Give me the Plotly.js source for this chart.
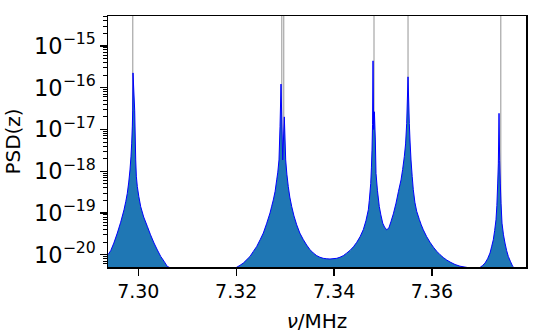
<!DOCTYPE html>
<html>
<head>
<meta charset="utf-8">
<script src="https://cdn.plot.ly/plotly-3.0.1.min.js"></script>
<style>
  html, body { margin: 0; padding: 0; background: #ffffff; }
  #plot { width: 542px; height: 335px; }
</style>
</head>
<body>
<div id="plot"></div>
<script>
// Power spectral density of z around 7.3 MHz
const freq = [
  // mode near 7.299 MHz
  7.29381, 7.29436, 7.29500, 7.29571, 7.29640, 7.29708, 7.29745, 7.29775, 7.29805,
  7.29830, 7.29850, 7.29865, 7.29878, 7.29886, 7.29892, 7.29926, 7.29947, 7.29960,
  7.29980, 7.30010, 7.30049, 7.30110, 7.30184, 7.30250, 7.30321, 7.30390, 7.30458,
  7.30525, 7.30592, 7.30682,
  // gap
  7.3095, 7.3130, 7.3165,
  // mode pair near 7.329 MHz
  7.32010, 7.32080, 7.32145, 7.32282, 7.32350, 7.32419, 7.32490, 7.32554, 7.32620,
  7.32691, 7.32725, 7.32758, 7.32795, 7.32827, 7.32850, 7.32874, 7.32895, 7.32915,
  7.32950, 7.32983, 7.33011, 7.33035, 7.33064, 7.33095, 7.33134, 7.33180, 7.33236,
  7.33300, 7.33371, 7.33440, 7.33508, 7.33575, 7.33645, 7.33710, 7.33779, 7.33850,
  7.33916, 7.34053, 7.34120, 7.34188, 7.34255, 7.34325, 7.34395, 7.34462, 7.34530,
  7.34597, 7.34650, 7.34699, 7.34719, 7.34748, 7.34762, 7.34774, 7.34785, 7.34795,
  // mode pair near 7.348 MHz and mode near 7.355 MHz
  7.34807, 7.34823, 7.34842, 7.34856, 7.34885, 7.34923, 7.34955, 7.34993, 7.35030,
  7.35075, 7.35120, 7.35162, 7.35210, 7.35265, 7.35315, 7.35367, 7.35400, 7.35434,
  7.35460, 7.35483, 7.35510, 7.35536, 7.35552, 7.35571, 7.35595, 7.35618, 7.35650,
  7.35687, 7.35741, 7.35780, 7.35822, 7.35890, 7.35959, 7.36030, 7.36096, 7.36165,
  7.36231, 7.36300, 7.36368, 7.36470, 7.36572, 7.36742, 7.3690,
  // mode near 7.374 MHz
  7.36981, 7.37030, 7.37083, 7.37135, 7.37185, 7.37220, 7.37252, 7.37280, 7.37307,
  7.37325, 7.37342, 7.37355, 7.37369, 7.37382, 7.37395, 7.37410, 7.37430, 7.37460,
  7.37491, 7.37525, 7.37559, 7.37600, 7.37649, 7.37675, 7.3775, 7.3792
];
const psd = [
  1.0e-20, 1.25e-20, 1.9e-20, 3.3e-20, 6.0e-20, 1.19e-19, 1.9e-19, 2.95e-19, 5.5e-19,
  1.07e-18, 2.2e-18, 4.7e-18, 1.2e-17, 2.9e-17, 2.26e-16, 2.9e-17, 1.86e-18, 7.6e-19,
  4.3e-19, 2.5e-19, 1.42e-19, 8.0e-20, 4.8e-20, 3.0e-20, 1.91e-20, 1.3e-20, 9.1e-21,
  7.0e-21, 5.25e-21, 4.7e-21,
  3.5e-21, 2.6e-21, 3.3e-21,
  5.0e-21, 5.6e-21, 6.3e-21, 9.1e-21, 1.2e-20, 1.58e-20, 2.3e-20, 3.3e-20, 5.5e-20,
  1.0e-19, 1.45e-19, 2.05e-19, 3.3e-19, 6.2e-19, 9.5e-19, 1.86e-18, 1.16e-17, 1.22e-16,
  1.86e-18, 2.0e-17, 1.86e-18, 8.5e-19, 4.3e-19, 2.4e-19, 1.42e-19, 8.5e-20, 5.2e-20,
  3.3e-20, 2.3e-20, 1.7e-20, 1.32e-20, 1.1e-20, 9.5e-21, 8.7e-21, 8.2e-21, 8.0e-21,
  7.9e-21, 8.2e-21, 8.7e-21, 9.5e-21, 1.09e-20, 1.27e-20, 1.55e-20, 1.98e-20, 2.69e-20,
  4.0e-20, 6.5e-20, 1.19e-19, 2.0e-19, 5.1e-19, 1.2e-18, 3.2e-18, 1.3e-17, 4.4e-16,
  1.0e-17, 2.65e-17, 5.6e-18, 8.9e-19, 3.5e-19, 1.43e-19, 9.0e-20, 5.7e-20, 4.6e-20,
  3.95e-20, 4.4e-20, 6.25e-20, 9.5e-20, 1.72e-19, 3.3e-19, 6.2e-19, 1.1e-18, 2.23e-18,
  4.5e-18, 1.4e-17, 1.82e-16, 1.4e-17, 5.0e-18, 1.86e-18, 7.5e-19, 3.6e-19, 1.8e-19,
  1.1e-19, 7.0e-20, 5.21e-20, 3.95e-20, 2.72e-20, 1.99e-20, 1.51e-20, 1.21e-20, 1.0e-20,
  8.57e-21, 7.47e-21, 6.69e-21, 5.83e-21, 5.31e-21, 4.9e-21, 4.5e-21,
  4.95e-21, 5.5e-21, 6.3e-21, 8.0e-21, 1.1e-20, 1.6e-20, 2.28e-20, 3.8e-20, 6.85e-20,
  1.5e-19, 5.2e-19, 1.5e-18, 2.43e-17, 1.8e-18, 5.2e-19, 1.7e-19, 5.7e-20, 3.0e-20,
  1.9e-20, 1.25e-20, 9.1e-21, 7.0e-21, 5.25e-21, 4.9e-21, 4.0e-21, 3.0e-21
];

// Mode frequencies marked with vertical guide lines
const modeFreqs = [7.29886, 7.32930, 7.32970, 7.34815, 7.35510, 7.37404];

const xTickVals = [7.30, 7.32, 7.34, 7.36];
const xTickText = ['7.30', '7.32', '7.34', '7.36'];

const FONT = 'DejaVu Sans, Arial, sans-serif';

const traces = [{
  x: freq,
  y: psd,
  type: 'scatter',
  mode: 'lines',
  line: { color: '#0000ff', width: 1, simplify: false },
  fill: 'tozeroy',
  fillcolor: '#1f77b4',
  hoverinfo: 'skip',
  showlegend: false
}];

const shapes = modeFreqs.map(f => ({
  type: 'line',
  xref: 'x', yref: 'paper',
  x0: f, x1: f, y0: 0, y1: 1,
  line: { color: 'rgba(128,128,128,0.6)', width: 1.4 },
  layer: 'below'
}));

const layout = {
  width: 542,
  height: 335,
  margin: { l: 108, r: 16, t: 16, b: 68 },
  paper_bgcolor: '#ffffff',
  plot_bgcolor: '#ffffff',
  font: { family: FONT, size: 18, color: '#000000' },
  showlegend: false,
  shapes: shapes,
  xaxis: {
    range: [7.29381, 7.3792],
    tickvals: xTickVals,
    ticktext: xTickText,
    ticks: 'outside',
    ticklen: 7,
    tickwidth: 1.3,
    tickcolor: '#000000',
    showline: true,
    linewidth: 1.5,
    linecolor: '#000000',
    mirror: true,
    showgrid: false,
    zeroline: false,
    tickfont: { family: FONT, size: 19, color: '#000000' },
    title: { text: '<i>ν</i>/MHz', font: { family: FONT, size: 20, color: '#000000' }, standoff: 12 }
  },
  yaxis: {
    type: 'log',
    range: [-20.294, -14.283],
    dtick: 1,
    exponentformat: 'power',
    showexponent: 'all',
    ticks: 'outside',
    ticklen: 7,
    tickwidth: 1.3,
    tickcolor: '#000000',
    minor: { ticks: 'outside', ticklen: 3.5, tickwidth: 1, tickcolor: '#000000', dtick: 'D1', showgrid: false },
    showline: true,
    linewidth: 1.5,
    linecolor: '#000000',
    mirror: true,
    showgrid: false,
    zeroline: false,
    tickfont: { family: FONT, size: 18, color: '#000000' },
    title: { text: 'PSD(z)', font: { family: FONT, size: 20, color: '#000000' }, standoff: 8 }
  }
};

Plotly.newPlot('plot', traces, layout, { displayModeBar: false, staticPlot: true });
</script>
</body>
</html>
